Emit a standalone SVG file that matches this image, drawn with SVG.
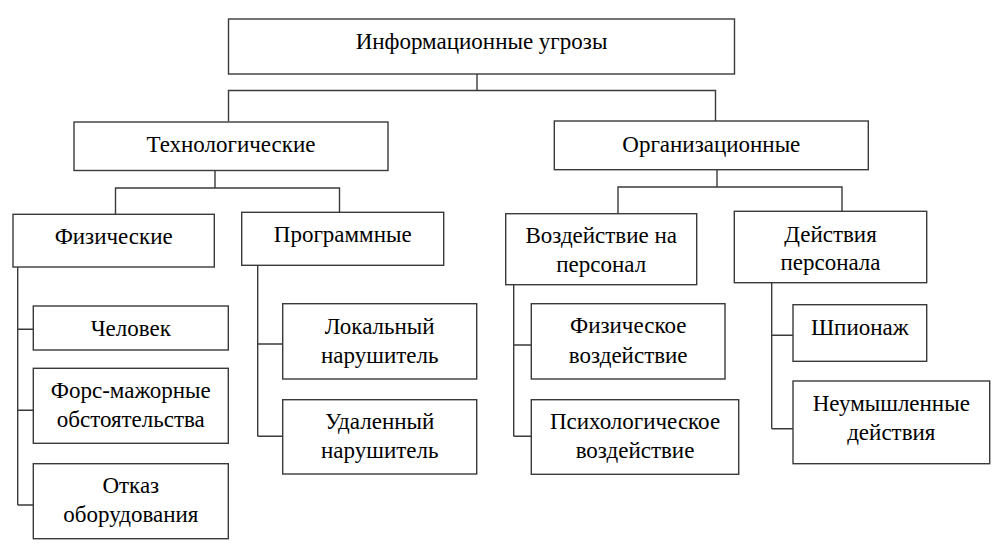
<svg xmlns="http://www.w3.org/2000/svg" width="1004" height="556" viewBox="0 0 1004 556" font-family="Liberation Serif, DejaVu Serif, Times New Roman, serif">
<style>
.n rect{fill:#fff;stroke:#3a3a3a;stroke-width:1.4}
.c path{fill:none;stroke:#3a3a3a;stroke-width:1.4}
text{font-family:"Liberation Serif","DejaVu Serif","Times New Roman",Times,serif;font-size:23px;fill:#000;text-anchor:middle}
</style>
<rect width="1004" height="556" fill="#fff"/>
<g class="c" id="connectors">
<path d="M477,74V90.5M228.5,121.5V90.5H715.5V121"/>
<path d="M215,170.5V188M115.5,214V188H339.5V212"/>
<path d="M717,169.5V187M618,213.5V187H842V211"/>
<path d="M17.7,267V505M17.7,329.3H33.3M17.7,410.3H33.3M17.7,505H33.3"/>
<path d="M257.7,265V436.3M257.7,344H282.7M257.7,436.3H282.7"/>
<path d="M513.7,284.7V436.3M513.7,345H531.3M513.7,436.3H531.3"/>
<path d="M771.7,282.7V428.7M771.7,335.3H793M771.7,428.7H793"/>
</g>
<g class="n" id="n-root"><rect x="228.5" y="19" width="506" height="55"/><text x="481.5" y="49.3" font-family="Liberation Serif">Информационные угрозы</text></g>
<g class="n" id="n-tech"><rect x="74" y="122" width="314" height="48.5"/><text x="231" y="152.3">Технологические</text></g>
<g class="n" id="n-org"><rect x="554.3" y="121" width="314" height="48.7"/><text x="711.3" y="151.7">Организационные</text></g>
<g class="n" id="n-phys"><rect x="13" y="214.3" width="201.3" height="52.7"/><text x="113.7" y="244.3">Физические</text></g>
<g class="n" id="n-prog"><rect x="241.7" y="212.3" width="202" height="53"/><text x="342.7" y="242.3">Программные</text></g>
<g class="n" id="n-vozd"><rect x="505.7" y="213.7" width="191" height="71"/><text x="601.2" y="243.3">Воздействие на</text><text x="601.2" y="271.7">персонал</text></g>
<g class="n" id="n-deyst"><rect x="734.3" y="211.3" width="192.4" height="71.4"/><text x="830.5" y="241.7">Действия</text><text x="830.5" y="270">персонала</text></g>
<g class="n" id="n-chel"><rect x="33.3" y="306" width="195" height="44"/><text x="130.8" y="336">Человек</text></g>
<g class="n" id="n-fors"><rect x="33.3" y="368.3" width="195" height="75"/><text x="130.8" y="398.3">Форс-мажорные</text><text x="130.8" y="426.7">обстоятельства</text></g>
<g class="n" id="n-otkaz"><rect x="33.3" y="463.7" width="195" height="75"/><text x="130.8" y="492.7">Отказ</text><text x="130.8" y="522.3">оборудования</text></g>
<g class="n" id="n-lok"><rect x="282.7" y="303.7" width="194" height="75.3"/><text x="379.7" y="334">Локальный</text><text x="379.7" y="362.7">нарушитель</text></g>
<g class="n" id="n-udal"><rect x="282.7" y="399.7" width="194" height="74.3"/><text x="379.7" y="429.3">Удаленный</text><text x="379.7" y="458.3">нарушитель</text></g>
<g class="n" id="n-fizv"><rect x="531.3" y="303.7" width="193.7" height="75.3"/><text x="628.2" y="333.3">Физическое</text><text x="628.2" y="362.7">воздействие</text></g>
<g class="n" id="n-psih"><rect x="531.3" y="399.7" width="207.4" height="74.6"/><text x="635" y="429">Психологическое</text><text x="635" y="458.3">воздействие</text></g>
<g class="n" id="n-shp"><rect x="793" y="304.7" width="133.7" height="56.6"/><text x="859.8" y="335">Шпионаж</text></g>
<g class="n" id="n-neum"><rect x="793" y="381" width="196.7" height="82.7"/><text x="891.3" y="411">Неумышленные</text><text x="891.3" y="440">действия</text></g>
</svg>
